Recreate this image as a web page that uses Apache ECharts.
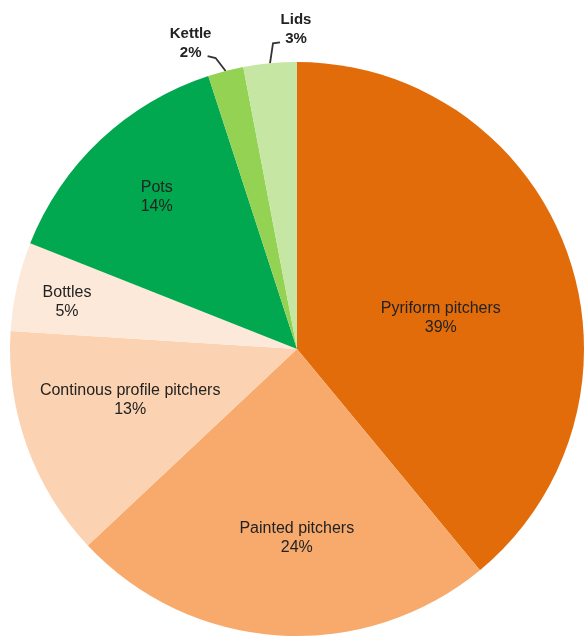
<!DOCTYPE html>
<html>
<head>
<meta charset="utf-8">
<script src="https://cdn.jsdelivr.net/npm/echarts@6/dist/echarts.min.js"></script>
<style>
  html, body { margin: 0; padding: 0; background: #fff; }
  #chart { width: 584px; height: 636px; }
</style>
</head>
<body>
<div id="chart"></div>
<script>
const categories = ["Pyriform pitchers", "Painted pitchers", "Continous profile pitchers", "Bottles", "Pots", "Kettle", "Lids"]
const shares = [39, 24, 13, 5, 14, 2, 3]

const colors = ["#E36C0A", "#F7AA6C", "#FBD3B2", "#FDE9DA", "#01A84F", "#93D252", "#C5E7A3"]
// inside labels need nudging to sit where the original has them
const labelOffsets = [[6, 19], [9, 43], [-29, 1], [-87, -15], [-40, -45], [0, 0], [0, 0]]
// outside labels: leader line bend + label centre, relative to the slice edge point
const outsideLayout = {
  Kettle: { mid: [-10, -13], end: [-18, -15], text: [-35, -28] },
  Lids: { mid: [3, -20], end: [10, -21], text: [26, -34] }
}

const myChart = echarts.init(document.getElementById("chart"))

const data = categories.map((name, i) => {
  const outside = !!outsideLayout[name]
  return {
    name,
    value: shares[i],
    itemStyle: { color: colors[i] },
    label: outside
      ? { position: "outside", fontWeight: "bold", fontSize: 15, lineHeight: 19 }
      : { position: "inside", offset: labelOffsets[i] },
    labelLine: outside ? { show: true, length: 14, length2: 8 } : { show: false }
  }
})

myChart.setOption({
  animation: false,
  series: [
    {
      type: "pie",
      center: [297, 349],
      radius: [0, 287],
      startAngle: 90,
      clockwise: true,
      avoidLabelOverlap: false,
      label: {
        formatter: "{b}\n{d}%",
        color: "#222",
        fontFamily: "Liberation Sans, Arial, sans-serif",
        fontSize: 16,
        lineHeight: 19
      },
      labelLine: { lineStyle: { color: "#333", width: 1.8 } },
      labelLayout: (params) => {
        const name = categories[params.dataIndex]
        const cfg = outsideLayout[name]
        if (!cfg || !params.labelLinePoints) return {}
        const p0 = params.labelLinePoints[0]
        const at = (d) => [p0[0] + d[0], p0[1] + d[1]]
        const t = at(cfg.text)
        return {
          x: t[0],
          y: t[1],
          align: "center",
          verticalAlign: "middle",
          labelLinePoints: [p0, at(cfg.mid), at(cfg.end)]
        }
      },
      itemStyle: { borderWidth: 0 },
      data
    }
  ]
})
</script>
</body>
</html>
